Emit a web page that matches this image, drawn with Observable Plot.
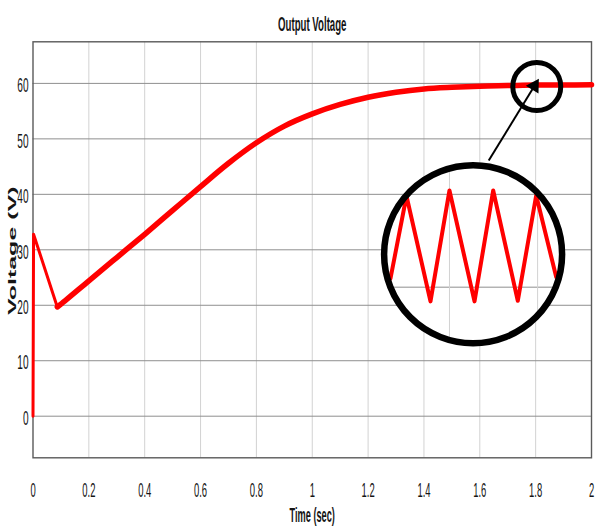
<!DOCTYPE html>
<html><head><meta charset="utf-8">
<script src="https://cdn.jsdelivr.net/npm/d3@7"></script>
<script src="https://cdn.jsdelivr.net/npm/@observablehq/plot@0.6"></script>
<style>html,body{margin:0;padding:0;background:#fff}</style>
</head><body><div id="chart"></div>
<script>
// ---- data ----
const spikeTime    = [0, 0.002, 0.087];
const spikeVoltage = [0, 32.8, 19.7];
const time    = [0.087, 0.1, 0.2, 0.3, 0.4, 0.5, 0.6, 0.7, 0.8, 0.9, 1.0, 1.1, 1.2, 1.3, 1.4, 1.5, 1.6, 1.7, 1.8, 1.9, 2.0];
const voltage = [19.7, 20.2, 24.4, 28.6, 32.8, 37.1, 41.4, 45.6, 49.3, 52.3, 54.5, 56.2, 57.5, 58.4, 59.0, 59.3, 59.5, 59.6, 59.7, 59.7, 59.75];
const xTicks      = [0, 0.2, 0.4, 0.6, 0.8, 1, 1.2, 1.4, 1.6, 1.8, 2];
const xTickLabels = ["0","0.2","0.4","0.6","0.8","1","1.2","1.4","1.6","1.8","2"];
const yTicks      = [0, 10, 20, 30, 40, 50, 60];
const yTickLabels = ["0","10","20","30","40","50","60"];
const titleText = "Output Voltage";
const xLabel = "Time (sec)";
const yLabel = "Voltage (V)";
// zoomed ripple inset (drawn in the chart's data space)
const rippleTime    = [1.280, 1.3375, 1.4234, 1.4914, 1.581, 1.648, 1.736, 1.802, 1.8736];
const rippleVoltage = [24.8, 39.7, 20.7, 40.7, 20.7, 40.7, 20.8, 39.8, 25.1];
const insetCenterTime = [1.576], insetCenterVoltage = [29.2];
const insetHGridV  = [23.26, 40.0], insetHGridT1 = [1.2795, 1.340], insetHGridT2 = [1.8718, 1.811];
const insetVGridT  = [1.4914, 1.807], insetVGridV1 = [13.72, 18.14], insetVGridV2 = [44.66, 40.24];
const zoomCenterTime = [1.804], zoomCenterVoltage = [59.44];
const arrowFromTime = [1.632], arrowFromVoltage = [46.1];
const arrowHeadTime = [1.7955], arrowHeadVoltage = [59.52];

const spike = spikeTime.map((t, i) => ({t, v: spikeVoltage[i]}));
const curve = time.map((t, i) => ({t, v: voltage[i]}));
const ripple = rippleTime.map((t, i) => ({t, v: rippleVoltage[i]}));
const inset = [{t: insetCenterTime[0], v: insetCenterVoltage[0]}];
const zoomSpot = [{t: zoomCenterTime[0], v: zoomCenterVoltage[0]}];
const hGrid = insetHGridV.map((v, i) => ({v, t1: insetHGridT1[i], t2: insetHGridT2[i]}));
const vGrid = insetVGridT.map((t, i) => ({t, v1: insetVGridV1[i], v2: insetVGridV2[i]}));
const arrow = [{t1: arrowFromTime[0], v1: arrowFromVoltage[0], t2: arrowHeadTime[0], v2: arrowHeadVoltage[0]}];

const red = "#f00";
const hGridColor = "#8f8f8f", vGridColor = "#d2d2d2";

const chart = Plot.plot({
  width: 595, height: 528,
  marginLeft: 32.5, marginRight: 4, marginTop: 41.3, marginBottom: 70.7,
  x: {domain: [0, 2]},
  y: {domain: [-7.5, 67.5]},
  style: {fontFamily: "'Liberation Sans', Arial, sans-serif", background: "#fff", color: "#151515"},
  marks: [
    Plot.ruleX(xTicks.slice(1, -1), {stroke: vGridColor, strokeWidth: 1}),
    Plot.ruleY(yTicks, {stroke: hGridColor, strokeWidth: 1}),
    Plot.frame({stroke: "#5a5a5a", strokeWidth: 1.4}),
    Plot.axisX({ticks: xTicks, tickSize: 0, tickPadding: 24, fontSize: 21, label: null,
      tickFormat: d => xTickLabels[xTicks.indexOf(d)]}),
    Plot.axisY({ticks: yTicks, tickSize: 0, tickPadding: 4.5, fontSize: 21, label: null, dy: 2,
      tickFormat: d => yTickLabels[yTicks.indexOf(d)]}),
    Plot.line(spike, {x: "t", y: "v", stroke: red, strokeWidth: 3}),
    Plot.line(curve, {x: "t", y: "v", stroke: red, strokeWidth: 5.5, curve: "catmull-rom"}),
    // inset
    Plot.dot(inset, {x: "t", y: "v", r: 89, fill: "#fff", stroke: "none"}),
    Plot.ruleY(hGrid, {y: "v", x1: "t1", x2: "t2", stroke: hGridColor, strokeWidth: 1}),
    Plot.ruleX(vGrid, {x: "t", y1: "v1", y2: "v2", stroke: vGridColor, strokeWidth: 1}),
    Plot.line(ripple, {x: "t", y: "v", stroke: red, strokeWidth: 4}),
    Plot.dot(inset, {x: "t", y: "v", r: 89, fill: "none", stroke: "#000", strokeWidth: 6.5}),
    Plot.dot(zoomSpot, {x: "t", y: "v", r: 24, fill: "none", stroke: "#000", strokeWidth: 5}),
    Plot.link(arrow, {x1: "t1", y1: "v1", x2: "t2", y2: "v2", stroke: "#000", strokeWidth: 2}),
    Plot.dot(arrow, {x: "t2", y: "v2", symbol: "triangle", r: 5.5, fill: "#000", stroke: "none", rotate: 31.5}),
    // titles
    Plot.text([titleText], {frameAnchor: "top", lineAnchor: "middle", textAnchor: "middle", dy: -18, fontSize: 21, fontWeight: "bold"}),
    Plot.text([xLabel], {frameAnchor: "bottom", lineAnchor: "middle", textAnchor: "middle", dy: 58, fontSize: 20, fontWeight: "bold"}),
    Plot.text([yLabel], {frameAnchor: "left", lineAnchor: "middle", textAnchor: "middle", dx: -21, dy: 1, rotate: -90, fontSize: 25, fontWeight: "bold"})
  ]
});
document.getElementById("chart").appendChild(chart);

// condensed lettering of the reference: scale each text about its own anchor
function num(v) {
  return v != null && /^\s*-?\d*\.?\d+(e-?\d+)?\s*$/.test(v) ? +v : 0;
}
function squeeze(t, sx, sy) {
  const tr = t.getAttribute("transform") || "";
  const x = num(t.getAttribute("x")), y = num(t.getAttribute("y"));
  t.setAttribute("transform", `${tr} translate(${x},${y}) scale(${sx},${sy}) translate(${-x},${-y})`);
}
const xSet = new Set(xTickLabels), ySet = new Set(yTickLabels);
chart.querySelectorAll("text").forEach(t => {
  const s = t.textContent;
  const g = t.parentNode && t.parentNode.getAttribute ? (t.parentNode.getAttribute("aria-label") || "") : "";
  if (g.startsWith("x-axis") && xSet.has(s)) squeeze(t, 0.45, 1);
  else if (g.startsWith("y-axis") && ySet.has(s)) squeeze(t, 0.48, 1);
  else if (s === titleText) squeeze(t, 0.46, 1);
  else if (s === xLabel) squeeze(t, 0.46, 1);
  else if (s === yLabel) squeeze(t, 1, 0.46);
});
</script>
</body></html>
